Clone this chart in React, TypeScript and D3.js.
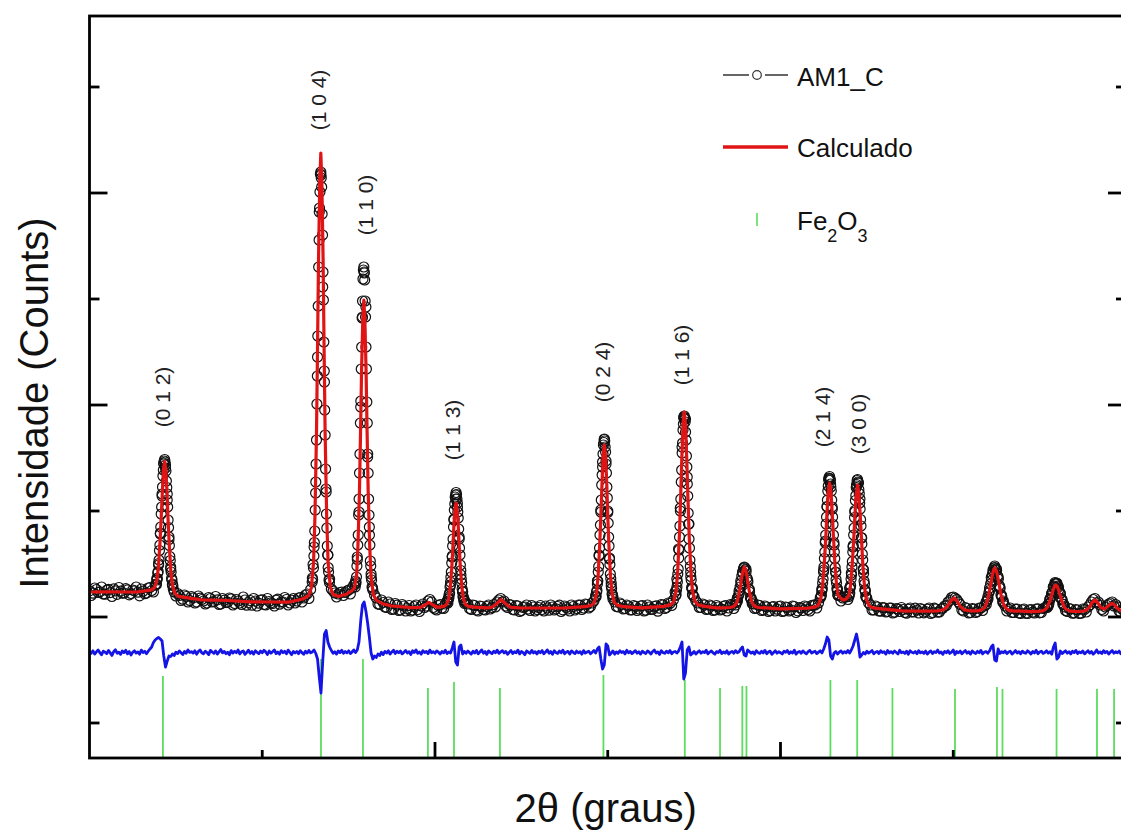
import { useEffect, useRef } from "react";
import * as d3 from "d3";

const W = 1121;
const H = 835;
const FONT = "'Liberation Sans', Arial, sans-serif";

// observed counts on a 0.2 deg grid, 20.0..80.0
const obsStart = 20;
const obsStep = 0.2;
const obsGrid = [
  262, 238, 275, 251, 230, 268, 244, 282, 226, 259,
  240, 271, 235, 262, 248, 280, 233, 290, 265, 318,
  520, 1210, 1520, 800, 330, 210, 215, 178, 205, 165,
  192, 150, 188, 160, 140, 185, 155, 172, 130, 168,
  148, 182, 135, 160, 125, 170, 145, 118, 160, 138,
  172, 120, 155, 135, 168, 128, 150, 175, 140, 185,
  160, 195, 190, 230, 275, 700, 2600, 4420, 2350, 620,
  280, 240, 230, 250, 245, 270, 290, 360, 1050, 3000,
  3100, 900, 270, 190, 125, 145, 95, 130, 80, 118,
  70, 110, 85, 60, 105, 75, 110, 95, 160, 150,
  80, 115, 90, 130, 200, 610, 1180, 780, 250, 140,
  85, 120, 70, 110, 75, 105, 80, 125, 150, 185,
  160, 95, 120, 70, 110, 65, 100, 80, 115, 60,
  95, 75, 110, 68, 100, 82, 118, 72, 95, 60,
  105, 85, 118, 90, 125, 105, 160, 360, 1050, 1780,
  1060, 340, 150, 100, 125, 85, 110, 72, 105, 80,
  115, 68, 100, 78, 112, 88, 120, 95, 135, 170,
  380, 1090, 1990, 1400, 450, 200, 140, 95, 120, 80,
  110, 70, 100, 78, 115, 90, 120, 145, 260, 450,
  480, 275, 150, 90, 115, 72, 100, 65, 105, 78,
  110, 60, 95, 70, 105, 62, 90, 110, 75, 115,
  120, 140, 280, 760, 1390, 1080, 450, 220, 190, 200,
  290, 700, 1310, 1180, 470, 185, 120, 70, 100, 58,
  92, 55, 88, 48, 80, 95, 45, 78, 52, 88,
  40, 75, 55, 90, 45, 80, 50, 88, 115, 165,
  200, 175, 125, 60, 85, 45, 78, 55, 90, 110,
  200, 395, 510, 400, 215, 110, 80, 45, 78, 40,
  72, 38, 70, 48, 80, 42, 85, 105, 180, 300,
  335, 235, 125, 55, 80, 40, 70, 38, 75, 100,
  150, 185, 150, 75, 100, 130, 150, 125, 60, 75,
  40,
];

// the in-between scan points, 20.1..79.9
const obsStart2 = 20.1;
const obsGrid2 = [
  215, 290, 245, 300, 228, 276, 205, 262, 295, 238,
  284, 222, 270, 300, 212, 258, 240, 295, 250, 385,
  840, 1530, 1230, 500, 250, 235, 165, 220, 150, 205,
  140, 210, 175, 130, 195, 150, 205, 125, 185, 145,
  190, 120, 175, 140, 200, 118, 165, 185, 110, 170,
  125, 185, 142, 110, 178, 150, 195, 120, 168, 140,
  190, 150, 220, 185, 390, 1350, 4050, 3300, 1250, 380,
  260, 200, 245, 215, 260, 230, 320, 600, 2100, 3450,
  1600, 430, 220, 130, 170, 100, 150, 75, 135, 65,
  125, 60, 115, 70, 120, 55, 130, 110, 175, 95,
  70, 125, 85, 160, 350, 980, 1100, 420, 170, 130,
  75, 115, 60, 105, 70, 120, 95, 100, 170, 150,
  110, 125, 75, 115, 55, 95, 120, 65, 100, 75,
  115, 60, 90, 120, 70, 105, 55, 110, 80, 120,
  70, 120, 75, 130, 90, 140, 215, 620, 1500, 1560,
  580, 200, 105, 140, 80, 120, 70, 115, 65, 110,
  60, 120, 75, 105, 58, 125, 85, 140, 115, 250,
  680, 1700, 1980, 930, 290, 160, 95, 130, 75, 120,
  65, 115, 70, 105, 60, 125, 85, 190, 360, 500,
  370, 190, 85, 120, 65, 110, 55, 100, 60, 105,
  55, 100, 60, 110, 45, 95, 65, 100, 60, 120,
  90, 190, 470, 1100, 1330, 720, 280, 160, 200, 175,
  440, 1050, 1340, 790, 270, 140, 70, 110, 60, 95,
  50, 90, 40, 85, 55, 75, 38, 90, 50, 70,
  85, 42, 78, 35, 88, 48, 80, 110, 150, 195,
  190, 150, 70, 95, 40, 85, 45, 90, 65, 150,
  290, 470, 480, 300, 160, 60, 90, 45, 80, 35,
  80, 35, 75, 40, 82, 45, 90, 110, 215, 330,
  270, 170, 65, 85, 38, 75, 35, 80, 50, 120,
  175, 140, 120, 60, 115, 140, 110, 100, 45, 70,
];

// denser observed scans across the main reflections (centred on the peak)
const obsPeaks = [
  { center: 24.35, step: 0.025, counts: [330, 325, 370, 385, 440, 455, 535, 570, 665, 720, 830, 900, 1030, 1100, 1230, 1300, 1410, 1470, 1540, 1560, 1575, 1550, 1490, 1460, 1360, 1295, 1170, 1100, 970, 895, 775, 715, 605, 565, 480, 450, 385, 370, 320, 315, 280] },
  { center: 33.39, step: 0.025, counts: [350, 375, 525, 490, 610, 745, 860, 1070, 1240, 1530, 1770, 2130, 2410, 2810, 3110, 3500, 3770, 4090, 4250, 4430, 4450, 4390, 4300, 4030, 3820, 3450, 3170, 2750, 2460, 2070, 1820, 1480, 1280, 1030, 890, 710, 620, 495, 450, 370, 345] },
  { center: 35.88, step: 0.025, counts: [300, 330, 345, 400, 510, 575, 720, 820, 1020, 1180, 1440, 1630, 1940, 2160, 2480, 2700, 2990, 3160, 3380, 3470, 3500, 3440, 3370, 3160, 3000, 2700, 2480, 2150, 1940, 1630, 1440, 1180, 1020, 820, 720, 560, 510, 400, 370, 300, 290] },
  { center: 41.22, step: 0.025, counts: [150, 140, 180, 185, 225, 240, 300, 320, 400, 450, 540, 600, 710, 780, 900, 970, 1070, 1130, 1200, 1220, 1245, 1225, 1180, 1140, 1050, 990, 880, 800, 690, 620, 520, 465, 380, 340, 280, 255, 205, 195, 160, 160, 135] },
  { center: 49.8, step: 0.025, counts: [200, 205, 250, 265, 330, 360, 450, 505, 610, 690, 820, 920, 1070, 1170, 1320, 1420, 1550, 1630, 1720, 1745, 1775, 1760, 1700, 1650, 1530, 1440, 1300, 1190, 1045, 940, 800, 710, 590, 525, 430, 385, 310, 285, 230, 220, 180] },
  { center: 54.43, step: 0.025, counts: [215, 225, 270, 300, 350, 430, 480, 590, 670, 800, 910, 1060, 1180, 1350, 1470, 1640, 1740, 1870, 1930, 2000, 2010, 1985, 1950, 1850, 1770, 1610, 1500, 1330, 1210, 1040, 930, 780, 690, 570, 505, 405, 370, 295, 280, 225, 220] },
  { center: 57.91, step: 0.05, counts: [120, 150, 160, 210, 235, 300, 335, 410, 440, 485, 495, 470, 455, 390, 350, 280, 250, 190, 175, 135, 130] },
  { center: 62.84, step: 0.025, counts: [205, 220, 260, 285, 340, 380, 450, 500, 585, 650, 745, 820, 930, 1000, 1105, 1170, 1260, 1310, 1370, 1385, 1405, 1380, 1370, 1300, 1260, 1170, 1100, 1000, 925, 820, 745, 650, 585, 495, 445, 375, 340, 285, 265, 220, 215] },
  { center: 64.46, step: 0.025, counts: [205, 225, 240, 290, 315, 380, 420, 500, 555, 650, 715, 820, 890, 995, 1065, 1165, 1215, 1295, 1325, 1365, 1375, 1350, 1340, 1275, 1235, 1140, 1080, 975, 910, 795, 730, 630, 570, 480, 435, 360, 330, 270, 255, 205, 200] },
  { center: 72.41, step: 0.05, counts: [125, 165, 180, 240, 265, 330, 365, 425, 450, 490, 495, 480, 465, 410, 380, 315, 285, 220, 200, 150, 140] },
  { center: 75.94, step: 0.05, counts: [95, 125, 135, 175, 190, 235, 250, 300, 310, 345, 335, 340, 310, 300, 250, 235, 185, 175, 130, 125, 100] },
];

// calculated profile [2theta, counts]
const calc = [
  [20.0, 250], [21.0, 252], [22.0, 250], [22.8, 252],
  [23.23, 261], [23.59, 271], [23.77, 294], [23.9, 370], [23.99, 503], [24.08, 744], [24.15, 993], [24.22, 1259], [24.28, 1474], [24.35, 1555], [24.42, 1464], [24.49, 1239], [24.55, 965], [24.62, 709], [24.71, 455], [24.8, 317], [24.94, 237], [25.12, 209], [25.48, 196],
  [26.5, 172], [28.0, 165], [29.3, 152], [30.5, 150], [31.5, 148],
  [32.34, 180], [32.68, 213], [32.84, 290], [32.97, 545], [33.05, 1004], [33.14, 1837], [33.2, 2687], [33.26, 3605], [33.33, 4348], [33.39, 4640], [33.45, 4348], [33.52, 3605], [33.58, 2687], [33.64, 1837], [33.73, 1004], [33.81, 554], [33.94, 300], [34.1, 225], [34.44, 205],
  [34.66, 220], [34.83, 225],
  [35.17, 260], [35.33, 290], [35.46, 412], [35.54, 714], [35.63, 1276], [35.69, 1851], [35.75, 2471], [35.82, 2972], [35.88, 3170], [35.94, 2970], [36.01, 2465], [36.07, 1845], [36.13, 1270], [36.22, 705], [36.3, 400], [36.43, 225], [36.59, 170], [36.93, 135],
  [37.5, 110], [38.5, 95],
  [38.65, 93], [39.15, 96], [39.4, 117], [39.65, 147], [39.9, 117], [40.15, 97],
  [40.51, 107], [40.67, 125], [40.8, 185], [40.88, 292], [40.97, 486], [41.03, 684], [41.09, 899], [41.16, 1072], [41.22, 1140], [41.28, 1072], [41.35, 899], [41.41, 684], [41.47, 486], [41.56, 292], [41.64, 185], [41.77, 125], [41.93, 107], [42.27, 98],
  [43.0, 92], [43.28, 97], [43.56, 130], [43.83, 175], [44.1, 130], [44.38, 97], [44.9, 92],
  [46.0, 90], [47.5, 90],
  [48.68, 103], [49.04, 116], [49.22, 144], [49.35, 237], [49.44, 403], [49.53, 705], [49.6, 1013], [49.67, 1345], [49.73, 1614], [49.8, 1720], [49.87, 1614], [49.94, 1345], [50.0, 1013], [50.07, 705], [50.16, 403], [50.25, 237], [50.39, 144], [50.57, 116], [50.93, 103],
  [52.0, 92],
  [53.26, 106], [53.63, 121], [53.82, 155], [53.96, 266], [54.05, 466], [54.15, 829], [54.22, 1199], [54.29, 1599], [54.36, 1923], [54.43, 2050], [54.5, 1923], [54.57, 1599], [54.64, 1199], [54.71, 829], [54.81, 466], [54.9, 266], [55.04, 155], [55.23, 121], [55.61, 106],
  [56.3, 92],
  [56.66, 91], [57.06, 95], [57.26, 102], [57.41, 125], [57.51, 167], [57.61, 243], [57.69, 320], [57.76, 404], [57.84, 471], [57.91, 500], [57.98, 471], [58.06, 404], [58.13, 320], [58.21, 243], [58.31, 167], [58.41, 125], [58.56, 102], [58.76, 95], [59.16, 91],
  [60.0, 82],
  [61.59, 88], [61.99, 98], [62.19, 119], [62.34, 191], [62.44, 319], [62.54, 551], [62.62, 788], [62.69, 1044], [62.77, 1251], [62.84, 1340], [62.92, 1257], [62.99, 1050], [63.07, 795], [63.14, 560], [63.24, 330], [63.34, 215], [63.5, 185], [63.65, 170], [63.8, 180],
  [63.96, 215], [64.06, 320], [64.16, 545], [64.24, 777], [64.31, 1030], [64.39, 1234], [64.46, 1320], [64.54, 1234], [64.61, 1030], [64.69, 777], [64.76, 540], [64.86, 310], [64.96, 185], [65.11, 115], [65.31, 93], [65.71, 83],
  [67.0, 62], [68.5, 58],
  [69.13, 62], [69.43, 72], [69.67, 109], [69.85, 160], [70.03, 190], [70.21, 160], [70.39, 109], [70.63, 72], [70.93, 62],
  [71.39, 62], [71.63, 69], [71.81, 94], [71.93, 139], [72.05, 219], [72.14, 301], [72.23, 390], [72.32, 462], [72.41, 490], [72.5, 462], [72.59, 390], [72.68, 301], [72.77, 219], [72.89, 139], [73.01, 94], [73.19, 69], [73.43, 62], [73.91, 58],
  [74.5, 53],
  [74.92, 56], [75.16, 61], [75.34, 76], [75.46, 103], [75.58, 153], [75.67, 204], [75.76, 258], [75.85, 303], [75.94, 320], [76.03, 303], [76.12, 258], [76.21, 204], [76.3, 153], [76.42, 103], [76.54, 76], [76.72, 61], [76.96, 56],
  [77.37, 55], [77.65, 63], [77.87, 96], [78.04, 143], [78.2, 170], [78.37, 143], [78.53, 96], [78.75, 79],
  [78.92, 104], [79.02, 117], [79.19, 137], [79.36, 117], [79.52, 84], [79.74, 60], [80.0, 45],
];

// difference (obs - calc), plotted with its offset, 0.1 deg grid
const diffStart = 20;
const diffStep = 0.1;
const diff = [
  -345, -362, -338, -371, -349, -330, -358, -377, -341, -352, -366, -335, -359, -384, -347, -328, -362, -351, -373, -340,
  -356, -333, -368, -345, -380, -352, -337, -361, -349, -372, -331, -355, -343, -367, -342, -320, -300, -255, -230, -215,
  -205, -220, -240, -390, -500, -440, -390, -395, -370, -385, -352, -366, -340, -358, -375, -344, -362, -330, -354, -347,
  -361, -338, -372, -346, -329, -357, -368, -342, -355, -376, -334, -350, -363, -339, -371, -348, -326, -359, -344, -367,
  -352, -378, -336, -361, -343, -357, -330, -369, -348, -339, -374, -355, -332, -364, -346, -371, -338, -353, -366, -341,
  -358, -333, -349, -375, -340, -362, -347, -329, -366, -351, -372, -336, -357, -343, -368, -331, -354, -377, -345, -360,
  -345, -367, -338, -356, -372, -343, -361, -335, -358, -349, -330, -365, -420, -600, -760, -450, -170, -135, -250, -300,
  -335, -362, -348, -371, -340, -356, -333, -364, -345, -358, -338, -366, -350, -329, -355, -330, -250, -40, 120, 150,
  60, -60, -200, -360, -420, -390, -405, -370, -385, -352, -376, -344, -360, -338, -371, -349, -332, -365, -343, -357,
  -341, -369, -352, -334, -360, -347, -375, -338, -356, -329, -363, -350, -372, -337, -355, -344, -366, -331, -358, -348,
  -363, -339, -352, -370, -345, -358, -333, -366, -349, -360, -310, -250, -450, -480, -300, -280, -370, -345, -362, -340,
  -356, -371, -343, -360, -335, -368, -350, -329, -362, -346, -374, -339, -355, -366, -342, -358, -331, -364, -349, -337,
  -360, -344, -372, -353, -336, -365, -348, -358, -331, -369, -345, -356, -377, -340, -352, -362, -334, -359, -347, -370,
  -343, -357, -336, -368, -351, -329, -362, -346, -373, -338, -355, -364, -341, -358, -332, -367, -350, -344, -371, -339,
  -354, -366, -341, -359, -347, -372, -336, -361, -350, -343, -368, -352, -335, -360, -320, -300, -420, -520, -480, -270,
  -290, -380, -360, -340, -372, -349, -363, -338, -355, -346, -369, -333, -358, -344, -366, -351, -337, -362, -348, -371,
  -342, -356, -365, -339, -352, -370, -345, -331, -360, -349, -374, -337, -356, -363, -342, -358, -335, -367, -350, -345,
  -360, -340, -300, -250, -620, -560, -330, -300, -380, -365, -345, -371, -352, -338, -362, -347, -356, -333, -368, -351,
  -340, -359, -372, -346, -355, -333, -366, -349, -361, -338, -370, -352, -344, -363, -336, -357, -348, -320, -300, -380,
  -390, -330, -345, -362, -349, -371, -337, -356, -364, -343, -359, -334, -367, -350, -341, -373, -355, -338, -362, -347,
  -357, -369, -342, -353, -336, -365, -348, -360, -331, -371, -352, -344, -363, -339, -356, -368, -347, -335, -361, -350,
  -343, -366, -352, -338, -360, -320, -270, -200, -230, -390, -420, -360, -345, -370, -352, -339, -363, -347, -358, -335,
  -360, -330, -290, -230, -170, -260, -400, -380, -355, -370, -342, -361, -349, -336, -368, -352, -344, -365, -338, -356,
  -348, -371, -335, -359, -346, -362, -340, -355, -369, -333, -357, -350, -364, -342, -372, -338, -353, -360, -345, -367,
  -336, -358, -349, -363, -341, -370, -352, -339, -366, -347, -355, -331, -361, -350, -373, -344, -357, -338, -364, -352,
  -330, -375, -345, -359, -341, -368, -350, -336, -362, -348, -371, -339, -356, -365, -343, -358, -334, -369, -351, -346,
  -362, -340, -300, -280, -430, -440, -320, -365, -348, -357, -339, -366, -350, -343, -371, -355, -336, -360, -347, -368,
  -341, -356, -363, -338, -352, -370, -345, -359, -333, -367, -350, -342, -364, -355, -337, -361, -348, -372, -300, -260,
  -420, -400, -340, -366, -351, -338, -362, -347, -370, -343, -356, -334, -365, -349, -358, -340, -369, -352, -337, -361,
  -346, -372, -355, -330, -360, -349, -365, -338, -357, -344, -370, -351, -336, -362, -348, -359, -341, -367, -353, -345,
  -350,
];

// Fe2O3 reflection markers
const braggTheta = [24.25, 33.4, 35.83, 39.59, 41.1, 43.76, 49.75, 54.46, 56.5, 57.79, 58.03, 62.89, 64.44, 66.48, 70.1, 72.53, 72.85, 75.98, 78.32, 79.31];
const braggTop = [-590, -420, -420, -710, -650, -710, -580, -630, -710, -690, -690, -630, -630, -710, -720, -700, -720, -720, -720, -720];

const hklLabels = ["(0 1 2)", "(1 0 4)", "(1 1 0)", "(1 1 3)", "(0 2 4)", "(1 1 6)", "(2 1 4)", "(3 0 0)"];
const hklTheta = [24.25, 33.28, 36.01, 41.05, 49.73, 54.3, 62.46, 64.54];
const hklCounts = [2200, 5170, 4120, 1870, 2450, 2620, 2000, 1930];

const xMajor = [40, 60, 80];
const xMinor = [30, 50, 70];
const yMajor = [0, 2120, 4240];
const yMinor = [-1060, 1060, 3180, 5300];

export default function App() {
  const ref = useRef<SVGSVGElement>(null);

  useEffect(() => {
    const svg = d3.select(ref.current);
    svg.selectAll("*").remove();

    const left = 89.5, right = 1126, top = 16, bottom = 758;

    const x = d3.scaleLinear().domain([20, 80]).range([left, right]);
    const y = d3.scaleLinear().domain([-1410, 6010]).range([bottom, top]);

    svg.append("rect").attr("width", W).attr("height", H).attr("fill", "#fff");

    svg.append("defs").append("clipPath").attr("id", "plot")
      .append("rect").attr("x", left).attr("y", top)
      .attr("width", right - left).attr("height", bottom - top);

    const plot = svg.append("g").attr("clip-path", "url(#plot)");

    // reflection markers
    plot.selectAll(".bragg")
      .data(braggTheta)
      .enter()
      .append("line")
      .attr("x1", d => x(d)).attr("x2", d => x(d))
      .attr("y1", (d, i) => y(braggTop[i]))
      .attr("y2", bottom)
      .attr("stroke", "#5ddc5d")
      .attr("stroke-width", 1.8);

    // difference curve
    const line = d3.line<number[]>()
      .x(d => x(d[0]))
      .y(d => y(d[1]));

    const diffPts = diff.map((v, i) => [diffStart + i * diffStep, v]);
    plot.append("path")
      .datum(diffPts)
      .attr("fill", "none")
      .attr("stroke", "#1414e6")
      .attr("stroke-width", 2.8)
      .attr("stroke-linejoin", "round")
      .attr("d", line);

    // observed
    const obsPts = obsGrid.map((v, i) => [obsStart + i * obsStep, v]);
    obsGrid2.forEach((v, i) => obsPts.push([obsStart2 + i * obsStep, v]));
    obsPeaks.forEach(p => {
      const half = (p.counts.length - 1) / 2;
      p.counts.forEach((v, i) => obsPts.push([p.center + (i - half) * p.step, v]));
    });
    obsPts.sort((a, b) => a[0] - b[0]);
    plot.selectAll(".obs")
      .data(obsPts)
      .enter()
      .append("circle")
      .attr("cx", d => x(d[0]))
      .attr("cy", d => y(d[1]))
      .attr("r", 5)
      .attr("fill", "none")
      .attr("stroke", "#111")
      .attr("stroke-width", 1.2);

    // calculated
    plot.append("path")
      .datum(calc)
      .attr("fill", "none")
      .attr("stroke", "#e01414")
      .attr("stroke-width", 3.2)
      .attr("stroke-linejoin", "round")
      .attr("d", line);

    // frame
    svg.append("rect")
      .attr("x", left).attr("y", top)
      .attr("width", right - left).attr("height", bottom - top)
      .attr("fill", "none").attr("stroke", "#000").attr("stroke-width", 2.8);

    const ticks = svg.append("g").attr("stroke", "#000").attr("stroke-width", 2.8);
    xMajor.concat(xMinor).forEach(v => {
      const len = xMajor.includes(v) ? 16 : 8;
      ticks.append("line").attr("x1", x(v)).attr("x2", x(v)).attr("y1", bottom).attr("y2", bottom - len);
    });
    yMajor.concat(yMinor).forEach(v => {
      const len = yMajor.includes(v) ? 18 : 10;
      ticks.append("line").attr("x1", left).attr("x2", left + len).attr("y1", y(v)).attr("y2", y(v));
      ticks.append("line").attr("x1", right).attr("x2", right - len).attr("y1", y(v)).attr("y2", y(v));
    });

    // hkl labels
    hklLabels.forEach((t, i) => {
      svg.append("text")
        .attr("transform", `translate(${x(hklTheta[i])},${y(hklCounts[i])}) rotate(-90)`)
        .attr("text-anchor", "middle")
        .attr("dy", "0.35em")
        .attr("font-family", FONT)
        .attr("font-size", 21)
        .attr("fill", "#222")
        .text(t);
    });

    // axis titles
    svg.append("text")
      .attr("x", (left + right) / 2 - 2)
      .attr("y", 822)
      .attr("text-anchor", "middle")
      .attr("font-family", FONT)
      .attr("font-size", 40)
      .attr("fill", "#111")
      .text("2θ (graus)");

    svg.append("text")
      .attr("transform", `translate(48,${(top + bottom) / 2 + 16}) rotate(-90)`)
      .attr("text-anchor", "middle")
      .attr("font-family", FONT)
      .attr("font-size", 40)
      .attr("fill", "#111")
      .text("Intensidade (Counts)");

    // legend
    const lg = svg.append("g").attr("font-family", FONT).attr("font-size", 26).attr("fill", "#111");
    lg.append("line").attr("x1", 723).attr("x2", 749).attr("y1", 75).attr("y2", 75).attr("stroke", "#333").attr("stroke-width", 1.5);
    lg.append("line").attr("x1", 765).attr("x2", 788).attr("y1", 75).attr("y2", 75).attr("stroke", "#333").attr("stroke-width", 1.5);
    lg.append("circle").attr("cx", 757).attr("cy", 75).attr("r", 4.3).attr("fill", "none").attr("stroke", "#333").attr("stroke-width", 1.2);
    lg.append("text").attr("x", 797).attr("y", 86).text("AM1_C");

    lg.append("line").attr("x1", 723).attr("x2", 788).attr("y1", 147).attr("y2", 147).attr("stroke", "#e01414").attr("stroke-width", 3.5);
    lg.append("text").attr("x", 797).attr("y", 157).text("Calculado");

    lg.append("line").attr("x1", 757).attr("x2", 757).attr("y1", 213).attr("y2", 226).attr("stroke", "#5ddc5d").attr("stroke-width", 1.6);
    const fe = lg.append("text").attr("x", 797).attr("y", 230);
    fe.append("tspan").text("Fe");
    fe.append("tspan").attr("font-size", 18).attr("dy", 12).text("2");
    fe.append("tspan").attr("dy", -12).text("O");
    fe.append("tspan").attr("font-size", 18).attr("dy", 12).text("3");
  }, []);

  return (
    <svg
      ref={ref}
      width={W}
      height={H}
      style={{ position: "absolute", left: 0, top: 0, display: "block" }}
    />
  );
}
